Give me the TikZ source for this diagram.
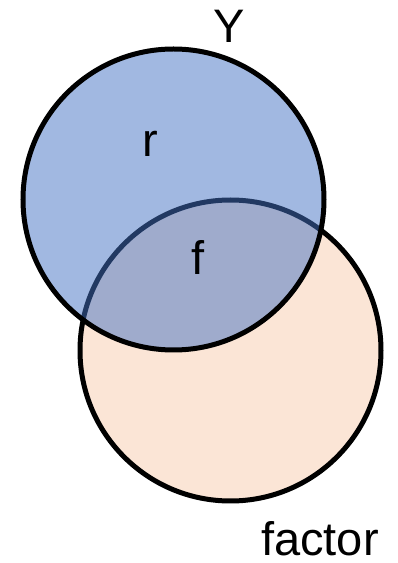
\documentclass[tikz,border=0pt]{standalone}
\usepackage{fontspec}
\setmainfont{Liberation Sans}
\definecolor{setblue}{HTML}{4472C4}
\definecolor{setorange}{HTML}{FBE5D6}
\begin{document}
\begin{tikzpicture}[x=1pt,y=1pt,
  setcircle/.style={circle, inner sep=0pt, outer sep=0pt, minimum size=301pt, line width=5pt, draw=black},
  lbl/.style={anchor=base, inner sep=0pt, font=\fontsize{47}{56}\selectfont}]
\useasboundingbox (0,0) rectangle (397,563);
\node[setcircle, fill=setorange] (factor) at (230.5,212.5) {};
\node[setcircle, fill=setblue, fill opacity=0.5, draw opacity=1] (Y) at (173.5,363.5) {};
\node[lbl] (ylbl) at (229,520) {Y};
\node[lbl] (rlbl) at (150,406) {r};
\node[lbl] (flbl) at (198,288) {f};
\node[lbl] (factorlbl) at (320,7) {factor};
\end{tikzpicture}
\end{document}
